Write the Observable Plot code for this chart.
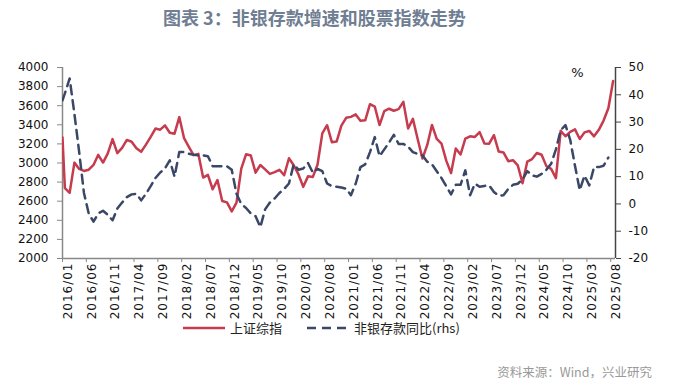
<!DOCTYPE html>
<html>
<head>
<meta charset="utf-8">
<script src="https://cdn.jsdelivr.net/npm/d3@7"></script>
<script src="https://cdn.jsdelivr.net/npm/@observablehq/plot@0.6"></script>
<style>
  body { margin: 0; background: #fff; width: 690px; height: 383px; position: relative; overflow: hidden; }
  #title { position: absolute; left: 163px; top: 5px; font: bold 18px "Noto Sans CJK SC", sans-serif; color: #6f7e92; line-height: 24px; white-space: nowrap; }
  #chart { position: absolute; left: 0; top: 36px; }
  #legend { position: absolute; left: 183px; top: 319px; display: flex; align-items: center; font: 13px "Noto Sans CJK SC", sans-serif; color: #222; line-height: 18px; white-space: nowrap; }
  #legend svg { display: block; }
  #source { position: absolute; right: 38px; top: 363px; font: 12.5px "Noto Sans CJK SC", sans-serif; color: #999; line-height: 18px; white-space: nowrap; }
</style>
</head>
<body>
<div id="title">图表 3：非银存款增速和股票指数走势</div>
<div id="chart"></div>
<div id="legend"></div>
<div id="source">资料来源：Wind，兴业研究</div>
<script>
// Month index: 0 = 2016/01 ... 115 = 2025/08 ; the first value is where each line enters at the left edge
const edgeIndex = -0.5;
const sse = [3267,
  2737.6, 2688.0, 3003.9, 2938.3, 2916.6, 2929.6, 2979.3, 3085.5, 3004.7, 3100.5, 3250.0, 3103.6,
  3159.2, 3241.7, 3222.5, 3154.7, 3117.2, 3192.4, 3273.0, 3360.8, 3348.9, 3393.3, 3317.2, 3307.2,
  3480.8, 3259.4, 3168.9, 3082.2, 3095.5, 2847.4, 2876.4, 2725.3, 2821.4, 2602.8, 2588.2, 2493.9,
  2584.6, 2941.0, 3090.8, 3078.3, 2898.7, 2978.9, 2932.5, 2886.2, 2905.2, 2929.1, 2872.0, 3050.1,
  2976.5, 2880.3, 2750.3, 2860.1, 2852.4, 2984.7, 3310.0, 3395.7, 3218.1, 3224.5, 3391.8, 3473.1,
  3483.1, 3509.1, 3441.9, 3446.9, 3615.5, 3591.2, 3397.4, 3543.9, 3568.2, 3547.3, 3563.9, 3639.8,
  3361.4, 3462.3, 3252.2, 3047.1, 3186.4, 3398.6, 3253.2, 3202.1, 3024.4, 2893.5, 3151.3, 3089.3,
  3255.7, 3279.6, 3272.9, 3323.3, 3204.6, 3202.1, 3291.0, 3119.9, 3110.5, 3018.8, 3029.7, 2974.9,
  2788.6, 3015.2, 3041.2, 3104.8, 3086.8, 2967.4, 2938.8, 2842.2, 3336.5, 3279.8, 3326.5, 3351.8,
  3250.6, 3320.9, 3335.8, 3279.0, 3347.5, 3444.4, 3573.2, 3857.9];
const nonbank = [38,
  40.5, 46, 33, 19, 4, -3.5, -6.5, -3.5, -2.5, -4, -6, -1.7,
  0.5, 2.5, 3.5, 3.7, 1.3, 3.7, 6.5, 9.5, 11.5, 13, 16, 10,
  19, 19, 18.4, 18, 17.8, 17.8, 17.5, 13.8, 13.8, 13.8, 13.8, 12.5,
  3.7, 0, -1.5, -3.5, -4.5, -8.5, -2, 0.5, 2, 4, 5.5, 7.5,
  14.5, 12.5, 13, 15, 11.5, 12.8, 12, 7.5, 6.5, 6.3, 6, 5.6,
  3.2, 7.4, 13.5, 14.5, 19, 24.5, 17.5, 20, 22.5, 25.3, 22, 22,
  21, 19, 18.3, 17.8, 15.5, 14.5, 12, 9.5, 6.5, 3.5, 7, 7,
  12.3, 3.2, 7.4, 6.3, 6.6, 6.8, 4.4, 3, 3.2, 5.5, 7, 7.4,
  9, 12, 10.5, 10, 11, 12.5, 14.7, 20, 27, 28.9, 23.5, 14,
  5, 10.4, 6.8, 13.5, 13.5, 14, 17];
const tickLabels = ["2016/01","2016/06","2016/11","2017/04","2017/09","2018/02","2018/07","2018/12",
  "2019/05","2019/10","2020/03","2020/08","2021/01","2021/06","2021/11","2022/04","2022/09",
  "2023/02","2023/07","2023/12","2024/05","2024/10","2025/03","2025/08"];
const labelStep = 5;
const monthCount = 116;
const leftDomain = [2000, 4000];
const rightDomain = [-20, 50];
const leftTicks = [2000, 2200, 2400, 2600, 2800, 3000, 3200, 3400, 3600, 3800, 4000];
const rightTicks = [-20, -10, 0, 10, 20, 30, 40, 50];
const seriesNames = ["上证综指", "非银存款同比(rhs)"];
const colors = ["#c63b4e", "#3a4767"];

const toLeft = v => leftDomain[0] + (v - rightDomain[0]) * (leftDomain[1] - leftDomain[0]) / (rightDomain[1] - rightDomain[0]);
const toRight = v => rightDomain[0] + (v - leftDomain[0]) * (rightDomain[1] - rightDomain[0]) / (leftDomain[1] - leftDomain[0]);

const idx = k => (k === 0 ? edgeIndex : k - 1);
const redData = sse.map((v, k) => ({i: idx(k), v}));
const dashData = nonbank.map((v, k) => ({i: idx(k), v}));
const xDomain = [-0.5, monthCount - 0.5];
const labelIdx = tickLabels.map((_, k) => k * labelStep);
const boundaries = tickLabels.map((_, k) => k * labelStep - 0.5);

const chart = Plot.plot({
  width: 690,
  height: 283,
  marginLeft: 62,
  marginRight: 75,
  marginTop: 31,
  marginBottom: 61,
  style: {fontFamily: "DejaVu Sans, sans-serif", fontSize: "12px", color: "#111", background: "transparent"},
  x: {type: "linear", domain: xDomain},
  y: {domain: leftDomain},
  marks: [
    Plot.axisY(leftTicks, {anchor: "left", tickSize: 5, tickPadding: 9, stroke: "#888", fill: "#111", label: null, fontSize: 12, tickFormat: d => String(d)}),
    Plot.axisY(rightTicks.map(toLeft), {anchor: "right", tickSize: 5, tickPadding: 8, stroke: "#444", fill: "#111", label: null, fontSize: 12, tickFormat: d => String(Math.round(toRight(d)))}),
    Plot.axisX(boundaries, {anchor: "bottom", tickSize: 4, stroke: "#888", tickFormat: () => "", label: null}),
    Plot.axisX(labelIdx, {anchor: "bottom", tickSize: 0, tickPadding: 4, tickRotate: -90, fill: "#111", fontSize: 12, label: null, dx: 3, tickFormat: d => tickLabels[Math.round(d / labelStep)]}),
    Plot.ruleX([xDomain[0]], {stroke: "#888", strokeWidth: 1.5}),
    Plot.ruleX([xDomain[1]], {stroke: "#444", strokeWidth: 1.5}),
    Plot.ruleY([leftDomain[0]], {stroke: "#888", strokeWidth: 1.5}),
    Plot.line(redData, {x: "i", y: "v", stroke: colors[0], strokeWidth: 2.5, clip: true}),
    Plot.line(dashData, {x: "i", y: d => toLeft(d.v), stroke: colors[1], strokeWidth: 2.5, strokeDasharray: "9,6", clip: true}),
    Plot.text(["%"], {frameAnchor: "top-right", textAnchor: "middle", lineAnchor: "middle", dx: -38, dy: 5, fontSize: 13, fill: "#111"})
  ]
});
d3.select(chart).selectAll('g[aria-label="x-axis tick label"] text').attr("letter-spacing", "1px");
document.getElementById("chart").appendChild(chart);

// legend
const legend = d3.select("#legend");
seriesNames.forEach((name, k) => {
  const item = legend.append("div").style("display", "flex").style("align-items", "center").style("margin-right", k === 0 ? "25px" : "0");
  const sw = item.append("svg").attr("width", 44).attr("height", 10);
  sw.append("line").attr("x1", 0).attr("x2", 42).attr("y1", 5).attr("y2", 5)
    .attr("stroke", colors[k]).attr("stroke-width", 2.5)
    .attr("stroke-dasharray", k === 1 ? "9,6" : null);
  item.append("span").style("margin-left", "3px").text(name);
});
</script>
</body>
</html>
